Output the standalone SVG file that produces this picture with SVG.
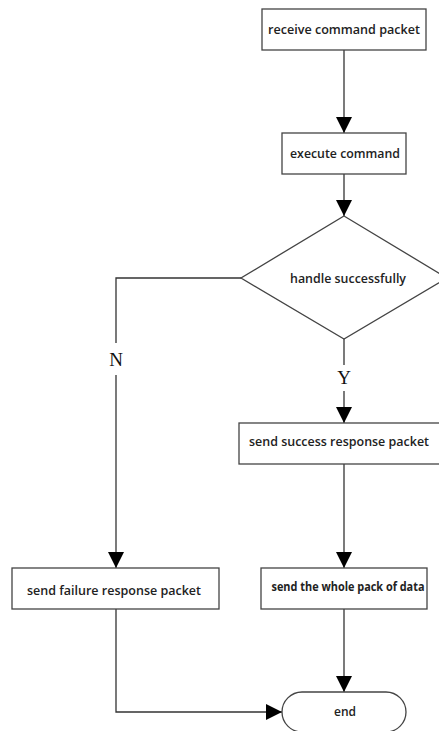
<svg xmlns="http://www.w3.org/2000/svg" width="439" height="731" viewBox="0 0 439 731">
<defs>
<style>
.box{fill:#fff;stroke:#444;stroke-width:1.3}
.edge{fill:none;stroke:#333;stroke-width:1.3}
.t{font-family:"Open Sans","DejaVu Sans",sans-serif;font-weight:600;font-size:12px;fill:#222;text-anchor:middle}
.lbl{font-family:"Liberation Serif","DejaVu Serif",serif;font-size:19px;fill:#111;text-anchor:middle}
</style>
<marker id="arr" markerUnits="userSpaceOnUse" markerWidth="16" markerHeight="16" refX="16" refY="8" orient="auto">
<path d="M0,0 L16,8 L0,16 Z" fill="#000"/>
</marker>
</defs>
<rect width="439" height="731" fill="#fff"/>
<g id="connectors">
<path class="edge" d="M344,50 L344,133" marker-end="url(#arr)"/>
<path class="edge" d="M344,174 L344,216" marker-end="url(#arr)"/>
<path class="edge" d="M344,339 L344,365"/>
<path class="edge" d="M344,391 L344,423" marker-end="url(#arr)"/>
<path class="edge" d="M344,464 L344,568" marker-end="url(#arr)"/>
<path class="edge" d="M241,278 L116,278 L116,343"/>
<path class="edge" d="M116,375 L116,568" marker-end="url(#arr)"/>
<path class="edge" d="M344,609 L344,692" marker-end="url(#arr)"/>
<path class="edge" d="M116,609 L116,712 L282,712" marker-end="url(#arr)"/>
<text class="lbl" x="116" y="366">N</text>
<text class="lbl" x="344" y="384">Y</text>
</g>
<g id="receive">
<rect class="box" x="262" y="9" width="164" height="41"/>
<text class="t" x="344" y="34" textLength="152" lengthAdjust="spacingAndGlyphs">receive command packet</text>
</g>
<g id="execute">
<rect class="box" x="282" y="133" width="124" height="41"/>
<text class="t" x="345" y="158" textLength="110" lengthAdjust="spacingAndGlyphs">execute command</text>
</g>
<g id="decision">
<polygon class="box" points="344,216 447,278 344,339 241,278"/>
<text class="t" x="348" y="283" textLength="116" lengthAdjust="spacingAndGlyphs">handle successfully</text>
</g>
<g id="success">
<rect class="box" x="239" y="423" width="210" height="41"/>
<text class="t" x="339" y="446" textLength="180" lengthAdjust="spacingAndGlyphs">send success response packet</text>
</g>
<g id="failure">
<rect class="box" x="12" y="568" width="207" height="41"/>
<text class="t" x="114" y="595" textLength="174" lengthAdjust="spacingAndGlyphs">send failure response packet</text>
</g>
<g id="wholepack">
<rect class="box" x="261" y="568" width="166" height="41"/>
<text class="t" x="348" y="591" textLength="153" lengthAdjust="spacingAndGlyphs" style="font-weight:700">send the whole pack of data</text>
</g>
<g id="end">
<rect class="box" x="282" y="692" width="124" height="40" rx="20" ry="20"/>
<text class="t" x="345" y="716">end</text>
</g>
</svg>
